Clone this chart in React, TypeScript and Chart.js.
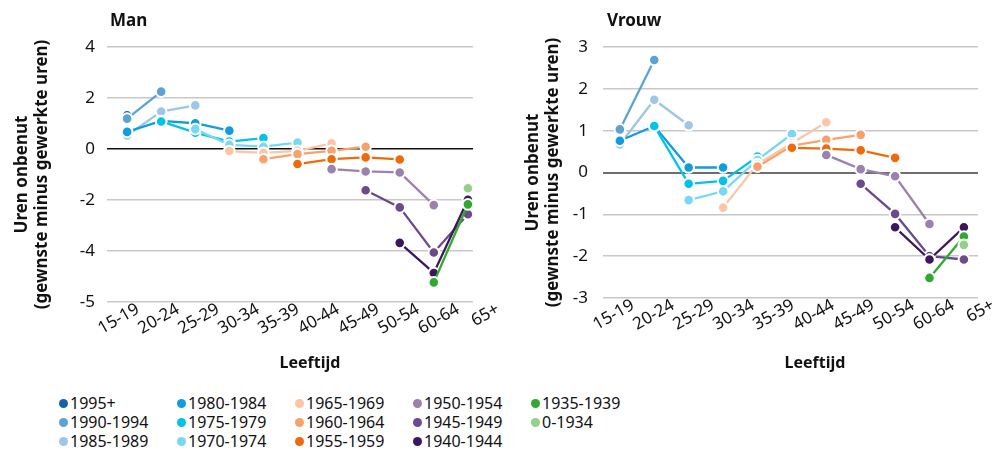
import React, { useEffect, useRef } from 'react';
import { Chart, registerables } from 'chart.js';

Chart.register(...registerables);
Chart.defaults.font.family = "'Noto Sans', sans-serif";

// ---------- data ----------
// data positions (11 age groups); the picture shows 10 tick labels
const ageGroups = ['15-19', '20-24', '25-29', '30-34', '35-39', '40-44', '45-49', '50-54', '55-59', '60-64', '65+'];
const xTickLabels = ['15-19', '20-24', '25-29', '30-34', '35-39', '40-44', '45-49', '50-54', '60-64', '65+'];

const cohorts = ['1995+', '1990-1994', '1985-1989', '1980-1984', '1975-1979', '1970-1974', '1965-1969', '1960-1964', '1955-1959', '1950-1954', '1945-1949', '1940-1944', '1935-1939', '0-1934'];
const cohortColors = ['#1761a8', '#5ba3d3', '#9dc7e5', '#0f9de0', '#00c3eb', '#78d8f3', '#fcc6a6', '#f7a26d', '#ef6a0c', '#9b82ad', '#6b4b8b', '#3d175c', '#30a92f', '#95d08a'];

const N = null;
// Man
const man1995 = [1.32, N, N, N, N, N, N, N, N, N, N];
const man1990 = [1.19, 2.25, N, N, N, N, N, N, N, N, N];
const man1985 = [0.53, 1.47, 1.71, N, N, N, N, N, N, N, N];
const man1980 = [0.67, 1.1, 1.01, 0.72, N, N, N, N, N, N, N];
const man1975 = [N, 1.08, 0.64, 0.29, 0.43, N, N, N, N, N, N];
const man1970 = [N, N, 0.78, 0.16, 0.09, 0.25, N, N, N, N, N];
const man1965 = [N, N, N, -0.08, -0.15, -0.07, 0.22, N, N, N, N];
const man1960 = [N, N, N, N, -0.4, -0.2, -0.07, 0.09, N, N, N];
const man1955 = [N, N, N, N, N, -0.59, -0.4, -0.33, -0.41, N, N];
const man1950 = [N, N, N, N, N, N, -0.79, -0.88, -0.92, -2.2, N];
const man1945 = [N, N, N, N, N, N, N, -1.62, -2.29, -4.06, -2.56];
const man1940 = [N, N, N, N, N, N, N, N, -3.68, -4.86, -1.99];
const man1935 = [N, N, N, N, N, N, N, N, N, -5.23, -2.17];
const man1934 = [N, N, N, N, N, N, N, N, N, N, -1.54];

// Vrouw
const vrouw1995 = [1.07, N, N, N, N, N, N, N, N, N, N];
const vrouw1990 = [1.03, 2.69, N, N, N, N, N, N, N, N, N];
const vrouw1985 = [0.67, 1.74, 1.13, N, N, N, N, N, N, N, N];
const vrouw1980 = [0.76, 1.11, 0.12, 0.12, N, N, N, N, N, N, N];
const vrouw1975 = [N, 1.11, -0.27, -0.2, 0.38, N, N, N, N, N, N];
const vrouw1970 = [N, N, -0.66, -0.45, 0.3, 0.92, N, N, N, N, N];
const vrouw1965 = [N, N, N, -0.84, 0.2, 0.7, 1.2, N, N, N, N];
const vrouw1960 = [N, N, N, N, 0.14, 0.64, 0.78, 0.9, N, N, N];
const vrouw1955 = [N, N, N, N, N, 0.59, 0.57, 0.53, 0.35, N, N];
const vrouw1950 = [N, N, N, N, N, N, 0.42, 0.08, -0.09, -1.23, N];
const vrouw1945 = [N, N, N, N, N, N, N, -0.27, -0.99, -2.0, -2.08];
const vrouw1940 = [N, N, N, N, N, N, N, N, -1.31, -2.08, -1.31];
const vrouw1935 = [N, N, N, N, N, N, N, N, N, -2.52, -1.53];
const vrouw1934 = [N, N, N, N, N, N, N, N, N, N, -1.73];

const manSeries = [man1995, man1990, man1985, man1980, man1975, man1970, man1965, man1960, man1955, man1950, man1945, man1940, man1935, man1934];
const vrouwSeries = [vrouw1995, vrouw1990, vrouw1985, vrouw1980, vrouw1975, vrouw1970, vrouw1965, vrouw1960, vrouw1955, vrouw1950, vrouw1945, vrouw1940, vrouw1935, vrouw1934];

const manYTickValues = [4, 2, 0, -2, -4, -6];
const manYTickLabels = ['4', '2', '0', '-2', '-4', '-5'];
const vrouwYTickValues = [3, 2, 1, 0, -1, -2, -3];
const vrouwYTickLabels = ['3', '2', '1', '0', '-1', '-2', '-3'];

const yTitle = ['Uren onbenut', '(gewnste minus gewerkte uren)'];
const xTitle = 'Leeftijd';

type PanelProps = {
  series: (number | null)[][];
  yTickValues: number[];
  yTickLabels: string[];
  yMin: number;
  yMax: number;
  xMin: number;
  xMax: number;
  lMin: number;
  lMax: number;
  padLeft: number;
  padRight: number;
  yAxisWidth: number;
  yTickPad: number;
  xAxisHeight: number;
  zeroColor: string;
  zeroWidth: number;
  left: number;
  width: number;
};

function Panel(p: PanelProps) {
  const ref = useRef<HTMLCanvasElement | null>(null);
  useEffect(() => {
    if (!ref.current) return;
    const chart = new Chart(ref.current, {
      type: 'line',
      data: {
        datasets: p.series.map((vals, i) => ({
          label: cohorts[i],
          data: vals.flatMap((v, j) => (v === null ? [] : [{ x: j, y: v }])),
          borderColor: cohortColors[i],
          backgroundColor: cohortColors[i],
          pointBackgroundColor: cohortColors[i],
          pointBorderColor: '#ffffff',
          pointBorderWidth: 2,
          pointRadius: 5.3,
          borderWidth: 2.3,
          tension: 0,
          order: -i,
          xAxisID: 'x',
          yAxisID: 'y',
        })),
      },
      options: {
        animation: false,
        responsive: false,
        maintainAspectRatio: false,
        parsing: false as any,
        layout: { padding: { left: p.padLeft, right: p.padRight, top: 47, bottom: 8 } },
        plugins: { legend: { display: false }, tooltip: { enabled: false }, title: { display: false } },
        scales: {
          x: { type: 'linear', display: false, min: p.xMin, max: p.xMax },
          xl: {
            type: 'linear',
            position: 'bottom',
            min: p.lMin,
            max: p.lMax,
            grid: { display: false, drawTicks: false },
            border: { display: false },
            afterBuildTicks: (s: any) => {
              s.ticks = xTickLabels.map((_, i) => ({ value: i }));
            },
            afterFit: (s: any) => {
              s.height = p.xAxisHeight;
              s.paddingLeft = 0;
              s.paddingRight = 0;
            },
            ticks: {
              autoSkip: false,
              minRotation: 30,
              maxRotation: 30,
              padding: -3,
              color: '#111111',
              font: { size: 17 },
              callback: (v: any) => xTickLabels[v as number] ?? '',
            },
          },
          y: {
            type: 'linear',
            min: p.yMin,
            max: p.yMax,
            afterBuildTicks: (s: any) => {
              s.ticks = p.yTickValues.map((v) => ({ value: v }));
            },
            afterFit: (s: any) => {
              s.width = p.yAxisWidth;
            },
            border: { display: false },
            grid: {
              drawTicks: false,
              color: (ctx: any) => (ctx.tick && ctx.tick.value === 0 ? p.zeroColor : '#c8c8c8'),
              lineWidth: (ctx: any) => (ctx.tick && ctx.tick.value === 0 ? p.zeroWidth : 1.5),
            },
            ticks: {
              padding: p.yTickPad,
              color: '#111111',
              font: { size: 17 },
              callback: (v: any) => p.yTickLabels[p.yTickValues.indexOf(v as number)] ?? '',
            },
            title: {
              display: true,
              text: yTitle,
              color: '#111111',
              padding: 0,
              font: { size: 17, weight: 'bold', lineHeight: 1.18 },
            },
          },
        },
      },
    } as any);
    return () => chart.destroy();
  }, []);
  return (
    <canvas
      ref={ref}
      width={p.width}
      height={380}
      style={{ position: 'absolute', left: p.left, top: 0, width: p.width, height: 380 }}
    />
  );
}

const legendCols = [59, 177, 295, 413, 531];

export default function App() {
  const textStyle: React.CSSProperties = { position: 'absolute', color: '#111111', whiteSpace: 'nowrap' };
  return (
    <div
      style={{
        position: 'absolute',
        left: 0,
        top: 0,
        width: 999,
        height: 451,
        background: '#ffffff',
        fontFamily: "'Noto Sans', sans-serif",
        overflow: 'hidden',
      }}
    >
      <Panel
        series={manSeries}
        yTickValues={manYTickValues}
        yTickLabels={manYTickLabels}
        yMin={-6}
        yMax={4}
        xMin={-0.59}
        xMax={10.15}
        lMin={-0.775}
        lMax={8.375}
        padLeft={12}
        padRight={27}
        yAxisWidth={95}
        yTickPad={12}
        xAxisHeight={70}
        zeroColor="#111111"
        zeroWidth={1.5}
        left={0}
        width={500}
      />
      <Panel
        series={vrouwSeries}
        yTickValues={vrouwYTickValues}
        yTickLabels={vrouwYTickLabels}
        yMin={-3}
        yMax={3}
        xMin={-0.49}
        xMax={10.41}
        lMin={-0.75}
        lMax={8.625}
        padLeft={23}
        padRight={21}
        yAxisWidth={80}
        yTickPad={15}
        xAxisHeight={74}
        zeroColor="#6e6e6e"
        zeroWidth={2}
        left={500}
        width={499}
      />
      <div style={{ ...textStyle, left: 110, top: 10, fontSize: 17, lineHeight: '20px', fontWeight: 700 }}>Man</div>
      <div style={{ ...textStyle, left: 607, top: 10, fontSize: 17, lineHeight: '20px', fontWeight: 700 }}>Vrouw</div>
      <div style={{ ...textStyle, left: 250, width: 120, textAlign: 'center', top: 352, fontSize: 16, lineHeight: '20px', fontWeight: 700 }}>{xTitle}</div>
      <div style={{ ...textStyle, left: 755, width: 120, textAlign: 'center', top: 352, fontSize: 16, lineHeight: '20px', fontWeight: 700 }}>{xTitle}</div>
      {cohorts.map((c, i) => {
        const col = Math.floor(i / 3);
        const row = i % 3;
        return (
          <div
            key={c}
            style={{
              ...textStyle,
              left: legendCols[col],
              top: 394 + row * 19,
              fontSize: 16,
              lineHeight: '19px',
              display: 'flex',
              alignItems: 'center',
            }}
          >
            <span
              style={{
                display: 'inline-block',
                width: 9,
                height: 9,
                borderRadius: 5,
                background: cohortColors[i],
                marginRight: 2,
              }}
            />
            <span>{c}</span>
          </div>
        );
      })}
    </div>
  );
}
